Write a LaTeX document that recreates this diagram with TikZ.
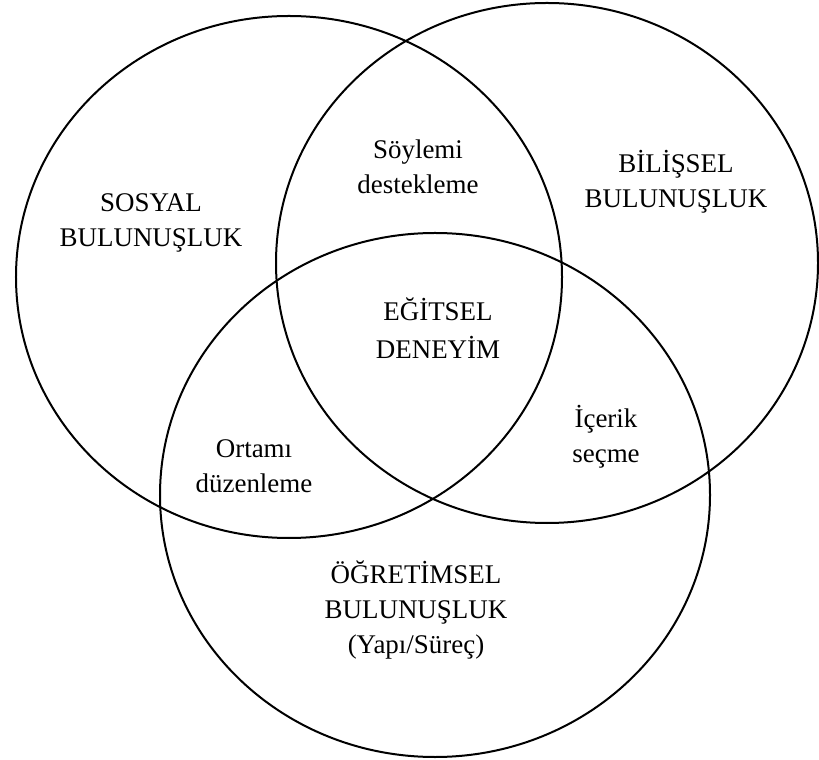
\documentclass[tikz,border=0pt]{standalone}
\usepackage{fontspec}
\setmainfont{Liberation Serif}
\usepackage{tikz}

\begin{document}
\begin{tikzpicture}[x=0.3mm,y=-0.3mm,
  set/.style={line width=0.6mm},
  lbl/.style={align=center,inner sep=0pt,font=\fontsize{23}{30}\selectfont},
  core/.style={lbl,font=\fontsize{23}{32.5}\selectfont}]
  \useasboundingbox (0,0) rectangle (819,760);
  % three sets
  \draw[set] (289,277) ellipse [x radius=81.9mm,y radius=78.3mm];
  \draw[set] (547,263) ellipse [x radius=81.3mm,y radius=78mm];
  \draw[set] (435,495) ellipse [x radius=82.5mm,y radius=78.6mm];
  % labels
  \node[lbl] (sosyal) at (151,223) {SOSYAL\\BULUNUŞLUK};
  \node[lbl] (bilissel) at (676,182) {BİLİŞSEL\\BULUNUŞLUK};
  \node[lbl] (ogretim) at (416,610) {ÖĞRETİMSEL\\BULUNUŞLUK\\(Yapı/Süreç)};
  \node[lbl] (soylem) at (418,167) {Söylemi\\destekleme};
  \node[lbl] (ortam) at (254,466) {Ortamı\\düzenleme};
  \node[lbl] (icerik) at (606,437) {İçerik\\seçme};
  \node[core] (egitsel) at (438,328) {EĞİTSEL\\DENEYİM};
\end{tikzpicture}
\end{document}
